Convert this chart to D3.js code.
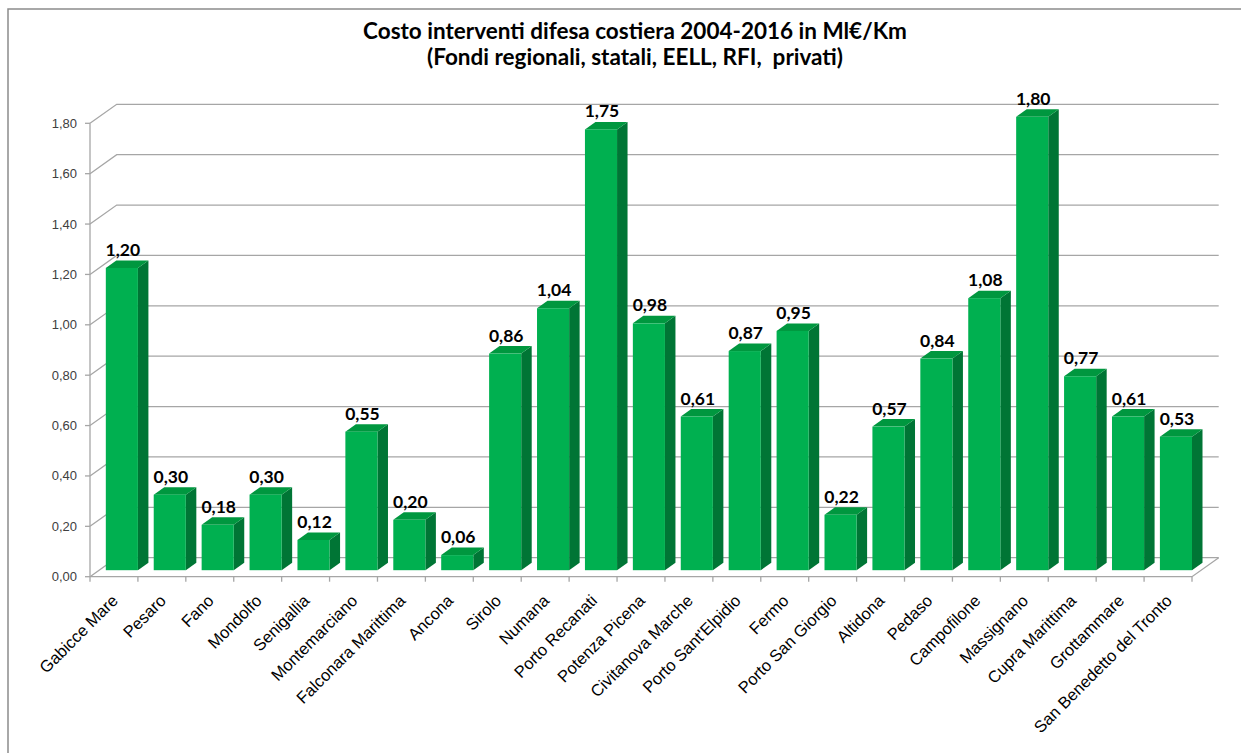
<!DOCTYPE html>
<html>
<head>
<meta charset="utf-8">
<script src="https://cdn.jsdelivr.net/npm/d3@7"></script>
<style>
  html, body { margin: 0; padding: 0; background: #fff; }
  svg { display: block; }
</style>
</head>
<body>
<svg id="chart" width="1241" height="753"></svg>
<script>
const categories = ["Gabicce Mare","Pesaro","Fano","Mondolfo","Senigallia","Montemarciano","Falconara Marittima","Ancona","Sirolo","Numana","Porto Recanati","Potenza Picena","Civitanova Marche","Porto Sant'Elpidio","Fermo","Porto San Giorgio","Altidona","Pedaso","Campofilone","Massignano","Cupra Marittima","Grottammare","San Benedetto del Tronto"];
const values = [1.20,0.30,0.18,0.30,0.12,0.55,0.20,0.06,0.86,1.04,1.75,0.98,0.61,0.87,0.95,0.22,0.57,0.84,1.08,1.80,0.77,0.61,0.53];
const yTicks = [0,0.2,0.4,0.6,0.8,1.0,1.2,1.4,1.6,1.8];
const titleLines = ["Costo interventi difesa costiera 2004-2016 in Ml€/Km","(Fondi regionali, statali, EELL, RFI,  privati)"];

const svg = d3.select("#chart");
const plotLeft = 90, plotRight = 1192, plotBottom = 576.7, plotTop = 123.3;
const depth = {dx: 26.7, dy: -19};
const barOff = {dx: 0, dy: -6.5};
const barDepth = {dx: 10.5, dy: -7.5};

const x = d3.scaleBand().domain(categories).range([plotLeft, plotRight]).padding(0);
const y = d3.scaleLinear().domain([0, 1.8]).range([plotBottom, plotTop]);
const fmt = v => d3.format(".2f")(v).replace(".", ",");
const grid = "#a6a6a6";

// outer border
svg.append("path").attr("d", "M8,760 L8,9 L1250,9").attr("fill","none").attr("stroke","#8c8c8c").attr("stroke-width",1.5);

// title
const title = svg.append("text").attr("x", 635).attr("text-anchor","middle")
  .style("font-family","Lato, 'Open Sans', sans-serif").style("font-weight","bold").style("font-size","22.5px")
  .style("white-space","pre").attr("fill","#000");
titleLines.forEach((t,i) => title.append("tspan").attr("x",635).attr("y", 39 + i*26).text(t));

// gridlines: left wall diagonal + back wall
const g = svg.append("g").attr("fill","none").attr("stroke",grid).attr("stroke-width",1.3);
yTicks.forEach(t => {
  const yy = y(t);
  g.append("path").attr("d", `M${plotLeft},${yy} L${plotLeft+depth.dx},${yy+depth.dy} L${plotRight+depth.dx},${yy+depth.dy}`);
});
// floor
g.append("path").attr("d", `M${plotLeft},${plotBottom} L${plotRight},${plotBottom} L${plotRight+depth.dx},${plotBottom+depth.dy}`);
// y axis line
g.append("line").attr("x1",plotLeft).attr("x2",plotLeft).attr("y1",plotBottom).attr("y2",plotTop);
// y ticks
yTicks.forEach(t => g.append("line").attr("x1",plotLeft-5).attr("x2",plotLeft).attr("y1",y(t)).attr("y2",y(t)));
// x ticks
const bounds = categories.map(c => x(c)).concat([plotRight]);
bounds.forEach(b => g.append("line").attr("x1",b).attr("x2",b).attr("y1",plotBottom).attr("y2",plotBottom+5));

// y labels
svg.append("g").selectAll("text").data(yTicks).join("text")
  .attr("x", plotLeft-13).attr("y", d => y(d)).attr("dy","0.35em").attr("text-anchor","end")
  .style("font-family","'Liberation Sans', Arial, sans-serif").style("font-size","13px").attr("fill","#404040")
  .text(fmt);

// bars
const bw = x.bandwidth();
const bars = svg.append("g").selectAll("g").data(categories.map((c,i)=>({c, v: values[i]}))).join("g");
bars.each(function(d){
  const gg = d3.select(this);
  const x0 = x(d.c) + 0.33*bw + barOff.dx;
  const x1 = x(d.c) + bw + barOff.dx;
  const yb = y(0) + barOff.dy;
  const yt = y(d.v) + barOff.dy;
  gg.append("path").attr("d", `M${x1},${yb} L${x1+barDepth.dx},${yb+barDepth.dy} L${x1+barDepth.dx},${yt+barDepth.dy} L${x1},${yt} Z`).attr("fill","#007535");
  gg.append("path").attr("d", `M${x0},${yt} L${x0+barDepth.dx},${yt+barDepth.dy} L${x1+barDepth.dx},${yt+barDepth.dy} L${x1},${yt} Z`).attr("fill","#00973f");
  gg.append("rect").attr("x",x0).attr("y",yt).attr("width",x1-x0).attr("height",yb-yt).attr("fill","#00b050");
  gg.append("text").attr("x",(x0+x1)/2 + 1).attr("y", yt - 12).attr("text-anchor","middle")
    .style("font-family","Lato, 'Open Sans', sans-serif").style("font-weight","bold").style("font-size","17.5px").attr("fill","#000")
    .text(fmt(d.v));
});

// x labels
svg.append("g").selectAll("text").data(categories).join("text")
  .attr("transform", d => `translate(${x(d)+bw/2+5},${plotBottom+25}) rotate(-45)`)
  .attr("text-anchor","end")
  .style("font-family","'Liberation Sans', Arial, sans-serif").style("font-size","16.5px").attr("fill","#000")
  .text(d => d);
</script>
</body>
</html>
